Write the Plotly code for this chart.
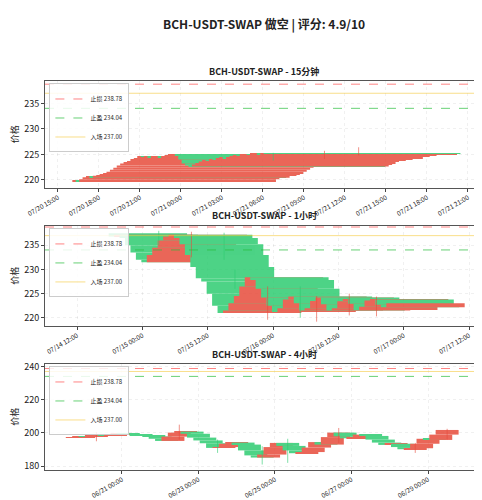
import plotly.graph_objects as go
import pandas as pd

stop_loss = 238.78
take_profit = 234.04
entry = 237.00

# 15 min
m15_start = "2025-07-20 23:15"
m15_open0 = 219.7
m15_close = [219.8,219.6,220.1,220.5,220.6,220.4,220.8,220.9,221.0,221.3,221.6,222.0,222.4,222.8,223.2,223.4,223.7,224.0,224.3,224.6,224.5,224.6,224.4,224.5,
             224.6,224.4,224.5,224.7,224.9,225.0,224.8,224.0,223.2,222.8,222.6,223.0,
             223.3,223.6,223.8,223.7,224.0,223.9,224.1,224.3,224.2,224.5,224.6,224.8,
             224.7,224.9,225.0,224.9,225.1,225.2,225.0,225.2,225.1]
m15_wick_idx = [45, 55, 30]
m15_wick_hi = [225.7, 226.4, 225.3]
m15_wick_lo = [224.1, 224.8, 223.8]
m15_ticks = ["2025-07-20 15:00", "2025-07-20 18:00", "2025-07-20 21:00", "2025-07-21 00:00", "2025-07-21 03:00",
             "2025-07-21 06:00", "2025-07-21 09:00", "2025-07-21 12:00", "2025-07-21 15:00", "2025-07-21 18:00",
             "2025-07-21 21:00"]

# 1 hour
h1_start = "2025-07-15 01:00"
h1_open0 = 237.5
h1_close = [236.8,237.2,236.5,235.0,233.5,232.0,231.5,233.0,234.5,236.0,236.8,237.2,
            236.5,235.2,233.0,230.5,228.2,227.5,225.0,222.5,221.0,221.5,223.0,224.5,
            226.5,228.4,227.8,226.0,224.2,222.5,221.2,222.0,223.8,224.4,223.0,221.5,
            222.0,223.5,224.2,222.8,221.5,222.0,223.4,223.9,222.9,221.6,222.3,223.6,
            223.8,222.7,222.2,223.0]
h1_wick_idx = [2, 8, 14, 16, 22, 28, 31, 37, 42]
h1_wick_hi = [238.0, 237.8, 237.6, 230.0, 226.5, 226.5, 224.5, 225.0, 224.4]
h1_wick_lo = [235.0, 232.5, 232.0, 226.0, 219.6, 220.0, 219.2, 220.5, 220.3]
h1_ticks = ["2025-07-14 12:00", "2025-07-15 00:00", "2025-07-15 12:00", "2025-07-16 00:00",
            "2025-07-16 12:00", "2025-07-17 00:00", "2025-07-17 12:00"]

# 4 hour
h4_start = "2025-06-19 20:00"
h4_open0 = 197.3
h4_close = [197.5,198.0,197.8,198.5,199.0,198.6,199.2,
            199.5,198.8,199.3,198.7,198.2,197.9,
            196.5,195.2,197.8,200.2,200.8,199.5,
            197.2,195.5,193.8,191.0,191.5,193.5,
            194.2,193.0,189.5,186.5,185.2,187.0,
            191.5,194.0,192.2,189.5,187.8,188.5,
            191.2,194.5,193.0,197.5,200.2,198.0,
            196.8,197.5,199.0,198.2,196.0,194.2,
            192.8,193.5,191.5,190.2,190.8,193.5,
            196.5,195.8,199.0,201.8]
h4_wick_idx = [3, 16, 22, 29, 33, 41, 53, 58]
h4_wick_hi = [200.5, 205.0, 196.0, 192.0, 196.5, 203.0, 194.0, 202.5]
h4_wick_lo = [195.0, 196.0, 188.0, 181.0, 182.0, 194.0, 188.0, 196.0]
h4_ticks = ["2025-06-21 00:00", "2025-06-23 00:00", "2025-06-25 00:00", "2025-06-27 00:00", "2025-06-29 00:00"]

RED = "#e74c3c"
GREEN = "#2ecc71"
WIDTH_MS = 0.6 * 86400000

charts = [
    ("BCH-USDT-SWAP - 15分钟", m15_start, "15min", m15_open0, m15_close, m15_wick_idx, m15_wick_hi, m15_wick_lo,
     ["2025-07-20 14:03", "2025-07-21 22:06"], [218.5, 239.4], m15_ticks, [220,225,230,235], [0.644, 0.86]),
    ("BCH-USDT-SWAP - 1小时", h1_start, "1h", h1_open0, h1_close, h1_wick_idx, h1_wick_hi, h1_wick_lo,
     ["2025-07-14 06:06", "2025-07-17 14:34"], [218.4, 239.0], h1_ticks, [220,225,230,235], [0.364, 0.566]),
    ("BCH-USDT-SWAP - 4小时", h4_start, "4h", h4_open0, h4_close, h4_wick_idx, h4_wick_hi, h4_wick_lo,
     ["2025-06-18 23:45", "2025-06-30 10:30"], [178.0, 241.5], h4_ticks, [180,200,220,240], [0.072, 0.286]),
]

fig = go.Figure()
layout = {}
for k, (title, start, freq, o0, closes, widx, whi, wlo, xr, yr, tv, yt, dom) in enumerate(charts):
    n = k + 1
    sfx = "" if n == 1 else str(n)
    xs = pd.date_range(start, periods=len(closes), freq=freq)
    opens = [o0] + closes[:-1]
    base = [min(a, b) for a, b in zip(opens, closes)]
    hgt = [abs(b - a) for a, b in zip(opens, closes)]
    cols = [RED if c >= o else GREEN for o, c in zip(opens, closes)]
    xa, ya = "x" + sfx, "y" + sfx
    lg = "legend" + sfx
    for col in (RED, GREEN):
        wx, wy = [], []
        for i, h, l in zip(widx, whi, wlo):
            if cols[i] == col:
                wx += [xs[i], xs[i], None]
                wy += [l, h, None]
        fig.add_trace(go.Scatter(x=wx, y=wy, mode="lines", line=dict(color=col, width=1), opacity=0.6,
                                 xaxis=xa, yaxis=ya, showlegend=False, hoverinfo="skip"))
    fig.add_trace(go.Bar(x=xs, y=hgt, base=base, width=WIDTH_MS, marker=dict(color=cols, line=dict(width=0)),
                         opacity=0.85, xaxis=xa, yaxis=ya, showlegend=False))
    for name, val, col, dash in [(f"止损 {stop_loss:.2f}", stop_loss, "rgba(255,80,80,0.7)", "dash"),
                                 (f"止盈 {take_profit:.2f}", take_profit, "rgba(40,190,60,0.7)", "dash"),
                                 (f"入场 {entry:.2f}", entry, "rgba(245,200,60,0.6)", "solid")]:
        fig.add_trace(go.Scatter(x=xr, y=[val, val], mode="lines", name=name, legend=lg,
                                 line=dict(color=col, width=1, dash=dash), xaxis=xa, yaxis=ya))
    layout["xaxis" + sfx] = dict(domain=[0, 1], range=xr, anchor=ya, tickvals=tv, tickformat="%m/%d %H:%M",
                                 tickangle=-30, tickfont=dict(size=6.5), showgrid=True, gridcolor="rgba(0,0,0,0.06)",
                                 griddash="dot", showline=True, linecolor="#555", mirror=True, ticks="outside",
                                 ticklen=3, zeroline=False)
    layout["yaxis" + sfx] = dict(domain=dom, range=yr, anchor=xa, tickvals=yt, tickfont=dict(size=9),
                                 title=dict(text="价格", font=dict(size=9), standoff=4), showgrid=True,
                                 gridcolor="rgba(0,0,0,0.06)", griddash="dot", showline=True, linecolor="#555",
                                 mirror=True, ticks="outside", ticklen=3, zeroline=False)
    layout[lg] = dict(x=0.01, y=dom[1] - 0.005, xanchor="left", yanchor="top", font=dict(size=6),
                      bgcolor="rgba(255,255,255,0.85)", bordercolor="#ccc", borderwidth=1,
                      tracegroupgap=0, itemwidth=30)

annotations = [dict(text="<b>BCH-USDT-SWAP 做空 | 评分: 4.9/10</b>", x=0.5, y=0.998, xref="paper", yref="paper",
                    showarrow=False, font=dict(size=12), xanchor="center", yanchor="top")]
for c in charts:
    dom = c[-1]
    annotations.append(dict(text=f"<b>{c[0]}</b>", x=0.5, y=dom[1] + 0.003, xref="paper", yref="paper",
                            showarrow=False, font=dict(size=9), xanchor="center", yanchor="bottom"))

fig.update_layout(width=482, height=500, margin=dict(l=37, r=7, t=0, b=0), barmode="overlay",
                  plot_bgcolor="white", paper_bgcolor="white", annotations=annotations,
                  font=dict(family="Noto Sans CJK SC, DejaVu Sans", color="#222"), **layout)
fig.write_html("out.html")
